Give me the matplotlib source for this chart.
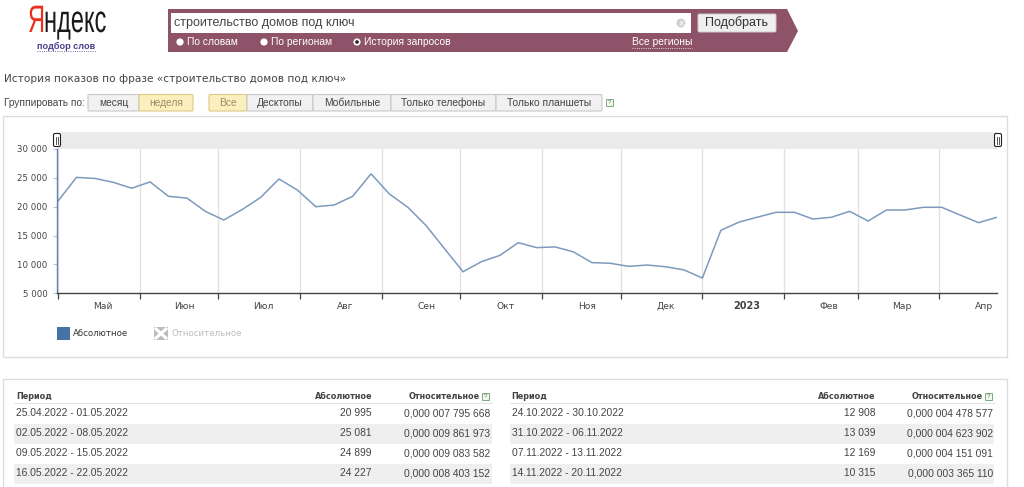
from datetime import date, timedelta
import matplotlib
matplotlib.use('Agg')
import matplotlib.pyplot as plt
import matplotlib.dates as mdates
from matplotlib.patches import Rectangle, Polygon, FancyBboxPatch, Circle
from matplotlib.patheffects import AbstractPathEffect
from matplotlib.ticker import FuncFormatter
from matplotlib.transforms import Affine2D

plt.rcParams['font.family'] = ['Liberation Sans', 'DejaVu Sans']

# weekly values, first point is the week ending 01.05.2022
first_week = date(2022, 5, 1)
values = [20995, 25081, 24899, 24227, 23200, 24300, 21800, 21500, 19200, 17700,
          19500, 21600, 24800, 22900, 20000, 20300, 21800, 25700, 22200, 19900,
          16700, 12700, 8740, 10480, 11570, 13770, 12908, 13039, 12169, 10315,
          10200, 9670, 9900, 9600, 9050, 7650, 15900, 17350, 18200, 19030,
          19030, 17870, 18170, 19200, 17520, 19430, 19430, 19900, 19900, 18560,
          17240, 18170]

month_starts = [date(2022, 5, 1), date(2022, 6, 1), date(2022, 7, 1), date(2022, 8, 1),
                date(2022, 9, 1), date(2022, 10, 1), date(2022, 11, 1), date(2022, 12, 1),
                date(2023, 1, 1), date(2023, 2, 1), date(2023, 3, 1), date(2023, 4, 1)]
month_labels = ['Май', 'Июн', 'Июл', 'Авг', 'Сен', 'Окт', 'Ноя', 'Дек', '2023', 'Фев', 'Мар', 'Апр']
y_ticks = [5000, 10000, 15000, 20000, 25000, 30000]

left_periods = ['25.04.2022 - 01.05.2022', '02.05.2022 - 08.05.2022',
                '09.05.2022 - 15.05.2022', '16.05.2022 - 22.05.2022']
left_abs = ['20 995', '25 081', '24 899', '24 227']
left_rel = ['0,000 007 795 668', '0,000 009 861 973', '0,000 009 083 582', '0,000 008 403 152']
right_periods = ['24.10.2022 - 30.10.2022', '31.10.2022 - 06.11.2022',
                 '07.11.2022 - 13.11.2022', '14.11.2022 - 20.11.2022']
right_abs = ['12 908', '13 039', '12 169', '10 315']
right_rel = ['0,000 004 478 577', '0,000 004 623 902', '0,000 004 151 091', '0,000 003 365 110']

W, H = 1024, 487
fig = plt.figure(figsize=(W / 100, H / 100), dpi=100, facecolor='white')

# page layer in pixel coordinates
page = fig.add_axes([0, 0, 1, 1], zorder=0)
page.set_xlim(0, W)
page.set_ylim(H, 0)
page.axis('off')


class TallText(AbstractPathEffect):
    # the logo face is condensed, no such font here, so stretch the glyphs upward
    def __init__(self, stretch):
        super().__init__()
        self.stretch = stretch

    def draw_path(self, renderer, gc, tpath, affine, rgbFace=None):
        renderer.draw_path(gc, tpath, Affine2D().scale(1, self.stretch) + affine, rgbFace)


def box(x0, y0, x1, y1, fc, ec='none', lw=0.8, ax=page, z=1):
    ax.add_patch(Rectangle((x0, y0), x1 - x0, y1 - y0, fc=fc, ec=ec, lw=lw, zorder=z))


def label(x, y, s, size=7.4, color='#444444', ha='left', **kw):
    return page.text(x, y, s, fontsize=size, color=color, ha=ha, va='center', zorder=5, **kw)


def button(x0, x1, y0, y1, s, active=False, size=7.4):
    fc = '#fbf0bd' if active else '#f1f1f1'
    ec = '#dcc98a' if active else '#c8c8c8'
    page.add_patch(FancyBboxPatch((x0, y0), x1 - x0, y1 - y0, boxstyle='round,pad=0,rounding_size=1.2',
                                  fc=fc, ec=ec, lw=0.8, zorder=2))
    label((x0 + x1) / 2, (y0 + y1) / 2, s, size=size, ha='center',
          color='#9a8f6a' if active else '#444444')


def help_icon(x, y):
    page.add_patch(Rectangle((x, y), 7, 7, fc='#f3f8ee', ec='#7fa87f', lw=0.7, zorder=3))
    label(x + 3.5, y + 3.6, '?', size=4.6, color='#558855', ha='center')


# logo
ya = page.text(28, 32, 'Я', fontsize=17, color='#e8301c', va='baseline', zorder=5)
ya.set_path_effects([TallText(1.62)])
rest = page.text(44, 32, 'ндекс', fontsize=17, color='#1a1a1a', va='baseline', zorder=5)
rest.set_path_effects([TallText(1.62)])
label(66, 46.5, 'подбор слов', size=6.6, color='#4b3f8f', ha='center', weight='bold')
page.plot([37, 96], [51, 51], color='#4b3f8f', lw=0.6, ls=':', zorder=5)

# search banner
page.add_patch(Polygon([(168, 9), (787, 9), (798, 31), (787, 52), (168, 52)], fc='#8f5369', ec='none', zorder=1))
box(171, 13, 691, 33, 'white', z=2)
label(174, 23, 'строительство домов под ключ', size=9, color='#444444')
page.add_patch(Circle((681, 23), 4.5, fc='#d0d0d0', ec='none', zorder=3))
label(681, 22.8, '×', size=7, color='white', ha='center')
page.add_patch(FancyBboxPatch((698, 14), 78, 18, boxstyle='round,pad=0,rounding_size=1.5',
                              fc='#efefef', ec='#cccccc', lw=0.7, zorder=3))
label(737, 23, 'Подобрать', size=9, color='#333333', ha='center')
for cx, s, on in [(180, 'По словам', False), (264, 'По регионам', False), (357, 'История запросов', True)]:
    page.add_patch(Circle((cx, 42), 3.6, fc='white', ec='none', zorder=3))
    if on:
        page.add_patch(Circle((cx, 42), 1.8, fc='#222222', ec='none', zorder=4))
    label(cx + 7, 42.3, s, size=7.4, color='white')
label(692, 42.3, 'Все регионы', size=7.4, color='white', ha='right')
page.plot([632, 692], [48, 48], color='white', lw=0.6, ls=':', zorder=5)

# heading and filters
label(4, 79, 'История показов по фразе «строительство домов под ключ»', size=7.6, color='#444444',
      family='DejaVu Sans')
label(4, 103, 'Группировать по:', size=7.3)
button(88, 139, 94.5, 111, 'месяц')
button(139, 193, 94.5, 111, 'неделя', active=True)
button(209, 247, 94.5, 111, 'Все', active=True)
button(247, 313, 94.5, 111, 'Десктопы')
button(313, 391, 94.5, 111, 'Мобильные')
button(391, 496, 94.5, 111, 'Только телефоны')
button(496, 602, 94.5, 111, 'Только планшеты')
help_icon(606, 99)

# panels
box(3, 116, 1007, 357, 'white', ec='#dddddd', lw=1.0)
box(3, 379, 1007, 495, 'white', ec='#dddddd', lw=1.0)
box(57, 132, 997, 149, '#ebebeb', z=2)

# chart
x0_px, x1_px, top_px, bottom_px = 57, 997, 149, 293.3
ax = fig.add_axes([x0_px / W, 1 - bottom_px / H, (x1_px - x0_px) / W, (bottom_px - top_px) / H], zorder=1)
ax.patch.set_alpha(0)
px_per_day = 2.63
weeks = [first_week + timedelta(days=7 * i) for i in range(len(values))]
x_start = mdates.date2num(first_week) - 0.4
ax.set_xlim(x_start, x_start + (x1_px - x0_px) / px_per_day)
ax.set_ylim(5000, 30000)
ax.plot(weeks, values, color='#7d9abd', lw=1.1, solid_joinstyle='miter')

ax.set_xticks(month_starts)
ax.tick_params(axis='x', which='major', length=4, width=0.9, color='#444444', labelbottom=False)
ax.grid(True, axis='x', color='#e2e2e2', lw=1.0)
ax.set_axisbelow(True)
ax.set_xticks([m + timedelta(days=17) for m in month_starts], minor=True)
ax.set_xticklabels(month_labels, minor=True)
ax.tick_params(axis='x', which='minor', length=0, pad=11, labelsize=6.6, labelcolor='#444444',
               labelfontfamily='DejaVu Sans')
for t in ax.get_xticklabels(minor=True):
    t.set_verticalalignment('baseline')
    if t.get_text() == '2023':
        t.set_fontweight('bold')
        t.set_fontsize(7)

ax.set_yticks(y_ticks)
ax.yaxis.set_major_formatter(FuncFormatter(lambda v, pos: f'{int(v):,}'.replace(',', ' ')))
ax.tick_params(axis='y', length=3, width=0.8, color='#c0c0c0', pad=4, labelsize=6.2, labelcolor='#444444',
               labelfontfamily='DejaVu Sans')
ax.spines['top'].set_visible(False)
ax.spines['right'].set_visible(False)
ax.spines['bottom'].set_color('#444444')
ax.spines['bottom'].set_linewidth(1.0)
ax.spines['left'].set_color('#5b84b5')
ax.spines['left'].set_linewidth(1.0)

# range handles over the chart
for hx in (57, 998):
    ax.add_patch(FancyBboxPatch((hx - 3.5, 133.5), 7, 13, boxstyle='round,pad=0,rounding_size=1.5',
                                transform=page.transData, clip_on=False,
                                fc='white', ec='#222222', lw=0.8, zorder=10))
    for dx in (-1, 1):
        ax.plot([hx + dx, hx + dx], [137, 143.5], color='#555555', lw=0.7, clip_on=False,
                transform=page.transData, zorder=11)

# legend
box(56.5, 327, 70, 340, '#4572a7')
label(73, 334, 'Абсолютное', size=6.2, color='#333333', family='DejaVu Sans')
box(154, 327, 168, 340, '#bdbdbd')
page.plot([156, 166], [329, 338], color='white', lw=2.2, zorder=3)
page.plot([156, 166], [338, 329], color='white', lw=2.2, zorder=3)
label(171, 334, 'Относительное', size=6.2, color='#bdbdbd', family='DejaVu Sans')


# tables
def table(x_left, x_stripe0, x_stripe1, x_abs, x_rel, periods, abs_vals, rel_vals):
    label(x_left, 396.5, 'Период', size=5.9, weight='bold', family='DejaVu Sans')
    label(x_abs, 396.5, 'Абсолютное', size=5.9, weight='bold', ha='right', family='DejaVu Sans')
    label(x_rel - 10, 396.5, 'Относительное', size=5.9, weight='bold', ha='right', family='DejaVu Sans')
    help_icon(x_rel - 8, 392.5)
    page.plot([x_stripe0, x_stripe1], [403, 403], color='#e4e4e4', lw=0.8, zorder=2)
    for i in range(4):
        y = 413.5 + i * 20
        if i % 2:
            box(x_stripe0, y - 9.7, x_stripe1, y + 10, '#efefef', z=2)
        label(x_left, y, periods[i], size=7.4)
        label(x_abs, y, abs_vals[i], size=7.4, ha='right')
        label(x_rel, y, rel_vals[i], size=7.4, ha='right')


table(16.5, 14, 492, 372, 490, left_periods, left_abs, left_rel)
table(511.5, 510, 994, 875, 993, right_periods, right_abs, right_rel)

fig.savefig('out.png', dpi=100)
